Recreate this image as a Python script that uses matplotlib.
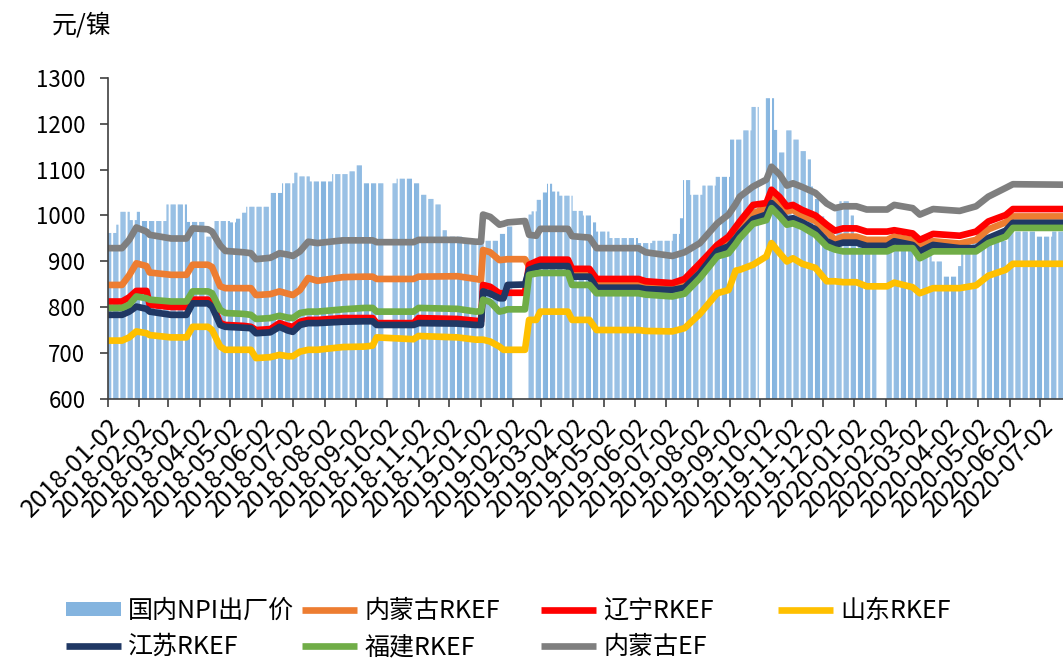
import matplotlib
matplotlib.use('Agg')
import matplotlib.pyplot as plt
import matplotlib.dates as mdates
import pandas as pd

plt.rcParams['font.family'] = ['Noto Sans CJK SC', 'DejaVu Sans']

# ---- line series (knot dates shared by all lines) ----
line_dates = [
    '2018-01-02', '2018-01-16', '2018-01-23', '2018-01-30', '2018-02-09', '2018-02-12',
    '2018-03-05', '2018-03-20', '2018-03-26', '2018-04-10', '2018-04-14', '2018-04-22',
    '2018-04-27', '2018-05-15', '2018-05-22', '2018-05-27', '2018-06-10', '2018-06-19',
    '2018-06-27', '2018-07-02', '2018-07-09', '2018-07-17', '2018-07-26', '2018-08-20',
    '2018-09-10', '2018-09-18', '2018-09-22', '2018-10-28', '2018-11-02', '2018-12-10',
    '2018-12-28',
    '2019-01-02', '2019-01-04', '2019-01-11', '2019-01-20', '2019-01-24', '2019-01-28',
    '2019-02-14', '2019-02-18', '2019-02-25', '2019-03-01', '2019-03-28', '2019-04-01',
    '2019-04-18', '2019-04-25', '2019-06-05', '2019-06-12', '2019-07-08', '2019-07-20',
    '2019-08-04', '2019-08-21', '2019-09-01', '2019-09-08', '2019-09-12', '2019-09-25',
    '2019-10-08', '2019-10-13', '2019-10-21', '2019-10-28', '2019-11-03', '2019-11-12',
    '2019-11-25', '2019-12-06', '2019-12-14', '2019-12-22',
    '2020-01-04', '2020-01-14', '2020-02-03', '2020-02-10', '2020-02-28', '2020-03-06',
    '2020-03-19', '2020-04-14', '2020-04-30', '2020-05-12', '2020-05-29', '2020-06-05',
    '2020-07-24',
]

nmg_ef = [
    929, 929, 947, 974, 965, 958, 950, 950, 972, 970, 965, 935, 923, 920, 918, 905, 908, 918,
    915, 912, 922, 943, 940, 946, 946, 946, 942, 942, 947, 947, 943,
    943, 1002, 997, 980, 982, 985, 988, 958, 956, 971, 971, 955, 952, 929, 929, 920, 912, 920,
    940, 983, 1002, 1025, 1041, 1063, 1078, 1106, 1089, 1065, 1070, 1062, 1049, 1026, 1016, 1020,
    1020, 1013, 1013, 1023, 1016, 1002, 1014, 1010, 1020, 1041, 1060, 1068, 1067,
]
nmg_rkef = [
    849, 849, 870, 896, 890, 876, 871, 871, 893, 893, 888, 846, 842, 842, 842, 827, 829, 835,
    830, 827, 838, 864, 858, 866, 867, 867, 862, 862, 867, 868, 862,
    860, 925, 920, 903, 904, 905, 905, 890, 892, 893, 893, 880, 880, 853, 853, 850, 846, 853,
    888, 930, 944, 960, 973, 1005, 1016, 1041, 1025, 1009, 1012, 1000, 988, 965, 947, 954,
    954, 947, 947, 954, 947, 933, 944, 939, 947, 970, 985, 998, 998,
]
ln_rkef = [
    813, 813, 822, 836, 836, 806, 801, 801, 817, 817, 810, 766, 762, 760, 758, 751, 753, 766,
    760, 758, 769, 773, 773, 777, 777, 777, 766, 766, 777, 775, 771,
    770, 849, 845, 831, 831, 832, 832, 893, 900, 904, 904, 884, 884, 862, 862, 857, 853, 862,
    896, 936, 954, 975, 987, 1023, 1027, 1056, 1040, 1020, 1023, 1012, 1000, 980, 967, 972,
    972, 965, 965, 968, 961, 947, 960, 956, 965, 987, 1001, 1014, 1014,
]
sd_rkef = [
    728, 728, 735, 748, 744, 740, 735, 735, 758, 758, 751, 715, 708, 708, 708, 690, 692, 697,
    694, 694, 704, 708, 708, 714, 715, 717, 735, 731, 738, 735, 730,
    730, 730, 726, 715, 708, 708, 708, 773, 773, 791, 791, 773, 773, 751, 751, 749, 748, 755,
    786, 831, 838, 880, 882, 893, 911, 940, 918, 900, 907, 895, 886, 857, 857, 855,
    855, 846, 846, 854, 844, 831, 842, 842, 848, 869, 882, 895, 895,
]
js_rkef = [
    784, 784, 791, 802, 797, 791, 784, 784, 809, 809, 802, 762, 758, 756, 755, 744, 746, 758,
    750, 747, 762, 766, 766, 769, 770, 770, 762, 762, 766, 765, 762,
    762, 835, 830, 820, 820, 849, 850, 882, 888, 890, 890, 867, 867, 843, 843, 840, 838, 843,
    875, 923, 933, 950, 962, 992, 1002, 1027, 1010, 991, 994, 985, 970, 944, 936, 941,
    941, 934, 934, 944, 936, 922, 936, 929, 929, 951, 967, 984, 984,
]
fj_rkef = [
    799, 799, 806, 824, 820, 817, 813, 813, 835, 835, 831, 795, 788, 786, 784, 775, 777, 782,
    778, 777, 788, 791, 791, 796, 799, 799, 791, 791, 799, 797, 791,
    792, 817, 812, 791, 793, 796, 796, 871, 874, 875, 875, 849, 849, 831, 831, 828, 824, 830,
    864, 911, 918, 938, 951, 982, 990, 1016, 998, 980, 983, 975, 958, 933, 926, 922,
    922, 922, 922, 929, 929, 907, 922, 922, 922, 940, 954, 973, 973,
]

# ---- NPI ex-factory price: price changes (date the new quote starts) ----
npi_dates = [
    '2018-01-02', '2018-01-11', '2018-01-15', '2018-01-24', '2018-01-31', '2018-02-05',
    '2018-03-01', '2018-03-21', '2018-04-09', '2018-04-17', '2018-05-02', '2018-05-08',
    '2018-05-14', '2018-05-18', '2018-06-09', '2018-06-22', '2018-07-04', '2018-07-09',
    '2018-07-19', '2018-08-10', '2018-08-25', '2018-09-03', '2018-09-09', '2018-10-12',
    '2018-10-29', '2018-11-05', '2018-11-11', '2018-11-18', '2018-11-26', '2018-11-30',
    '2018-12-15',
    '2019-01-02', '2019-01-21', '2019-01-28', '2019-02-18', '2019-02-21', '2019-02-26',
    '2019-03-02', '2019-03-08', '2019-03-13', '2019-03-20', '2019-04-02', '2019-04-12',
    '2019-04-21', '2019-04-25', '2019-05-08', '2019-06-05', '2019-06-19', '2019-07-09',
    '2019-07-16', '2019-07-19', '2019-07-26', '2019-08-07', '2019-08-20', '2019-09-03',
    '2019-09-16', '2019-09-24', '2019-10-08', '2019-10-16', '2019-10-21', '2019-10-28',
    '2019-11-03', '2019-11-10', '2019-11-16', '2019-11-21', '2019-11-25', '2019-11-29',
    '2019-12-04', '2019-12-16', '2019-12-19', '2019-12-30',
    '2020-01-02', '2020-03-18', '2020-03-29', '2020-04-11', '2020-04-16', '2020-04-20',
    '2020-05-30', '2020-06-28', '2020-07-14',
]
npi_values = [
    962, 980, 1008, 990, 1008, 988,
    1024, 986, 954, 988, 985, 993,
    1006, 1019, 1049, 1070, 1093, 1085,
    1074, 1090, 1096, 1109, 1070, 1080,
    1070, 1045, 1036, 1024, 968, 954,
    947,
    945, 960, 976, 1002, 1009, 1034,
    1050, 1069, 1052, 1043, 1010, 1000,
    985, 965, 951, 940, 945, 960,
    994, 1077, 1045, 1065, 1084, 1165,
    1185, 1236, 1255, 1186, 1137, 1185,
    1165, 1140, 1122, 1063, 1036, 998,
    960, 1013, 1031, 1000,
    950, 900, 867, 890, 925, 945,
    965, 954, 965,
]
# days without a quote (holidays)
holidays = [
    ('2018-10-01', '2018-10-07'), ('2019-02-02', '2019-02-17'), ('2019-10-01', '2019-10-07'),
    ('2020-01-24', '2020-02-02'), ('2020-05-01', '2020-05-05'),
]

start, end = pd.Timestamp('2018-01-02'), pd.Timestamp('2020-07-24')
days = pd.bdate_range(start, end)
for a, b in holidays:
    days = days[(days < pd.Timestamp(a)) | (days > pd.Timestamp(b))]
npi = pd.Series(npi_values, index=pd.to_datetime(npi_dates)).reindex(days, method='ffill')

fig = plt.figure(figsize=(10.63, 6.58), dpi=100)
ax = fig.add_axes([0.1013, 0.3929, 0.8987, 0.4893])

bars = ax.bar(npi.index, npi.values, width=1.0, color='#5B9BD5', alpha=0.75,
              linewidth=0, snap=False, label='国内NPI出厂价', zorder=1)

x = pd.to_datetime(line_dates)
series = [
    ('内蒙古RKEF', nmg_rkef, '#ED7D31'),
    ('辽宁RKEF', ln_rkef, '#FF0000'),
    ('山东RKEF', sd_rkef, '#FFC000'),
    ('江苏RKEF', js_rkef, '#203864'),
    ('福建RKEF', fj_rkef, '#70AD47'),
    ('内蒙古EF', nmg_ef, '#7F7F7F'),
]
lines = {}
for name, vals, col in series:
    lines[name], = ax.plot(x, vals, color=col, linewidth=4.8, label=name, zorder=2,
                           solid_joinstyle='round', solid_capstyle='butt')

ax.set_ylim(600, 1300)
ax.set_yticks(range(600, 1301, 100))
ax.set_xlim(start, end)
ax.xaxis.set_major_locator(mdates.MonthLocator(bymonthday=2))
ax.xaxis.set_major_formatter(mdates.DateFormatter('%Y-%m-%d'))

for s in ['top', 'right']:
    ax.spines[s].set_visible(False)
for s in ['left', 'bottom']:
    ax.spines[s].set_color('#404040')
    ax.spines[s].set_linewidth(1.2)
ax.tick_params(axis='both', direction='out', length=6, width=1.2, color='#404040',
               labelcolor='black')
ax.tick_params(axis='y', pad=10, labelsize=16)
ax.tick_params(axis='x', pad=4, labelsize=18)
for lab in ax.get_xticklabels():
    lab.set_rotation(45)
    lab.set_ha('right')
    lab.set_rotation_mode('anchor')

fig.text(0.077, 0.962, '元/镍', fontsize=18, ha='center', va='center')

# legend: four columns laid out like the original
cols = [
    ([bars, lines['江苏RKEF']], 0.050),
    ([lines['内蒙古RKEF'], lines['福建RKEF']], 0.272),
    ([lines['辽宁RKEF'], lines['内蒙古EF']], 0.497),
    ([lines['山东RKEF']], 0.720),
]
for handles, xpos in cols:
    fig.legend(handles=handles, labels=[h.get_label() for h in handles],
               loc='upper left', bbox_to_anchor=(xpos, 0.11), frameon=False,
               fontsize=18, handlelength=2.2, handletextpad=0.3, borderpad=0,
               labelspacing=0.4, handleheight=0.5)

fig.savefig('out.png', dpi=100)
